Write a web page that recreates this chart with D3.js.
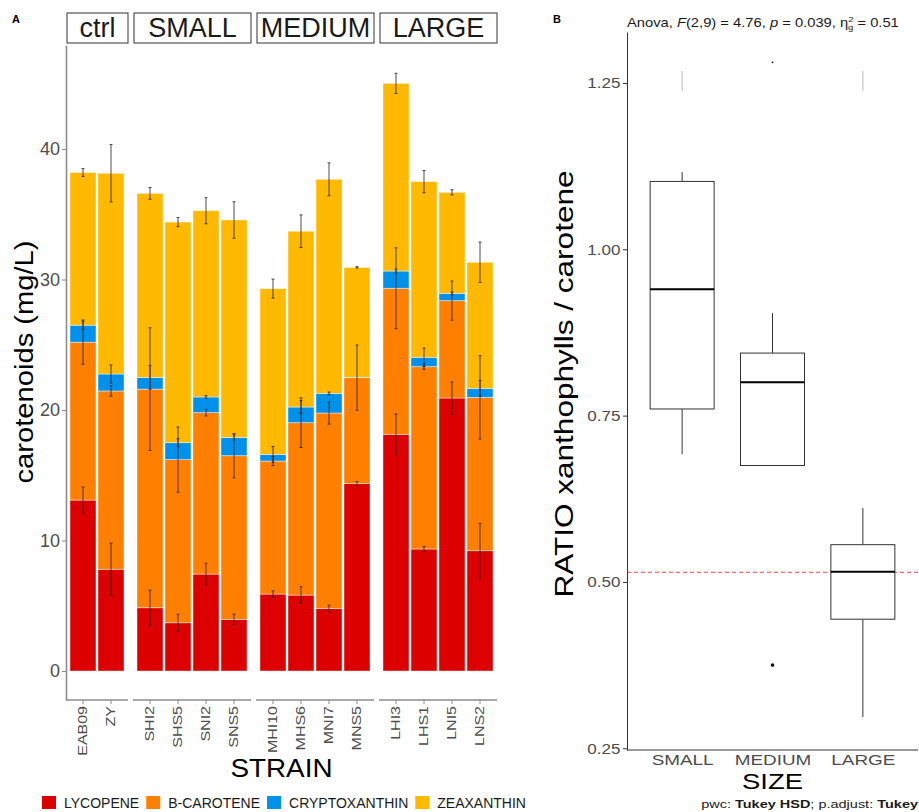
<!DOCTYPE html>
<html>
<head>
<meta charset="utf-8">
<script src="https://cdn.jsdelivr.net/npm/d3@7"></script>
<style>
  body { margin: 0; background: #fff; }
  text { font-family: "Liberation Sans", Arial, sans-serif; }
</style>
</head>
<body>
<svg id="chart" width="919" height="812"></svg>
<script>
// ---- data: panel A (stacked carotenoids per strain, mg/L) ----
const facets = ["ctrl", "SMALL", "MEDIUM", "LARGE"];
const strains = ["EAB09", "ZY", "SHI2", "SHS5", "SNI2", "SNS5", "MHI10", "MHS6", "MNI7", "MNS5", "LHI3", "LHS1", "LNI5", "LNS2"];
const strainFacet = ["ctrl", "ctrl", "SMALL", "SMALL", "SMALL", "SMALL", "MEDIUM", "MEDIUM", "MEDIUM", "MEDIUM", "LARGE", "LARGE", "LARGE", "LARGE"];
const pigments = ["LYCOPENE", "B-CAROTENE", "CRYPTOXANTHIN", "ZEAXANTHIN"];
const pigmentColors = ["#dc0000", "#ff7f00", "#0091ea", "#ffb900"];

const lycopene      = [13.1, 7.8, 4.85, 3.7, 7.43, 3.96, 5.9, 5.82, 4.8, 14.36, 18.14, 9.35, 20.92, 9.22];
const bCarotene     = [12.1, 13.66, 16.75, 12.5, 12.37, 12.54, 10.19, 13.21, 14.97, 8.12, 11.19, 13.97, 7.46, 11.75];
const cryptoxanthin = [1.3, 1.3, 0.9, 1.3, 1.2, 1.4, 0.51, 1.2, 1.51, 0.03, 1.32, 0.72, 0.56, 0.69];
const zeaxanthin    = [11.7, 15.38, 14.1, 16.9, 14.27, 16.66, 12.7, 13.47, 16.4, 8.42, 14.38, 13.46, 7.74, 9.66];

const lycopeneSd      = [1.0, 2.0, 1.35, 0.65, 0.83, 0.4, 0.25, 0.65, 0.25, 0.15, 1.57, 0.2, 1.23, 2.1];
const bCaroteneSd     = [1.7, 0.4, 4.7, 2.5, 0.25, 1.7, 0.35, 1.9, 0.85, 2.5, 3.1, 0.2, 1.5, 3.2];
const cryptoxanthinSd = [0.3, 0.7, 0.9, 0.3, 0.1, 0.2, 0.6, 0.5, 0.1, 0.0, 0.15, 0.7, 0.1, 0.6];
const zeaxanthinSd    = [0.3, 2.2, 0.45, 0.35, 1.0, 1.4, 0.73, 1.25, 1.26, 0.05, 0.77, 0.85, 0.2, 1.55];

const yTicksA = [0, 10, 20, 30, 40];

// ---- data: panel B (ratio xanthophylls / carotene by size) ----
const sizeGroups = ["SMALL", "MEDIUM", "LARGE"];
const whiskerLow  = [0.692, 0.675, 0.297];
const boxQ1       = [0.760, 0.675, 0.444];
const boxMedian   = [0.940, 0.800, 0.5155];
const boxQ3       = [1.102, 0.844, 0.556];
const whiskerHigh = [1.116, 0.904, 0.611];
const outlierGroup = ["MEDIUM", "MEDIUM"];
const outlierValue = [0.375, 1.281];
const stubGroup = ["SMALL", "LARGE"];
const stubFrom  = [1.238, 1.238];
const stubTo    = [1.268, 1.268];
const refLine = 0.5145;
const yTicksB = [0.25, 0.50, 0.75, 1.00, 1.25];

const svg = d3.select("#chart");
const layers = [lycopene, bCarotene, cryptoxanthin, zeaxanthin];
const layerSd = [lycopeneSd, bCaroteneSd, cryptoxanthinSd, zeaxanthinSd];

// ================= PANEL A =================
const aTop = 45, aBottom = 700, aLeft = 66;
const yA = d3.scaleLinear().domain([-2.22, 47.97]).range([aBottom, aTop]);

const table = strains.map(function (s, i) {
  const row = {strain: s, facet: strainFacet[i]};
  pigments.forEach(function (p, k) { row[p] = layers[k][i]; });
  return row;
});
const series = d3.stack().keys(pigments)(table);

// one band scale per facet, same step for every facet
const step = 28, pad = 3, gap = 5;
const facetScales = {};
let x0 = aLeft;
facets.forEach(function (f) {
  const dom = strains.filter(function (s, i) { return strainFacet[i] === f; });
  const w = dom.length * step + 2 * pad;
  facetScales[f] = {
    x: d3.scaleBand().domain(dom).range([x0 + pad, x0 + pad + dom.length * step]).paddingInner(0.07).paddingOuter(0.035),
    left: x0, right: x0 + w
  };
  x0 += w + gap;
});
function xA(i) { return facetScales[strainFacet[i]].x(strains[i]); }
const bw = facetScales.ctrl.x.bandwidth();

// strips
const strip = svg.append("g");
facets.forEach(function (f) {
  const fs = facetScales[f];
  strip.append("rect").attr("x", fs.left + 1).attr("y", 13).attr("width", fs.right - fs.left - 1).attr("height", 30)
    .attr("fill", "#fff").attr("stroke", "#333").attr("stroke-width", 1);
  strip.append("text").attr("x", (fs.left + fs.right) / 2 + 0.5).attr("y", 37).attr("text-anchor", "middle")
    .attr("font-size", 27).attr("fill", "#1a1a1a").text(f);
});

// bars
const gBars = svg.append("g");
series.forEach(function (s, k) {
  gBars.append("g").attr("fill", pigmentColors[k])
    .selectAll("rect").data(s).enter().append("rect")
    .attr("x", function (d, i) { return xA(i); })
    .attr("y", function (d) { return yA(d[1]); })
    .attr("width", bw)
    .attr("height", function (d) { return yA(d[0]) - yA(d[1]); })
    .attr("stroke", "#fff").attr("stroke-opacity", 0.55).attr("stroke-width", 0.8);
});

// error bars at each cumulative layer top
const gErr = svg.append("g").attr("stroke", "#222").attr("stroke-opacity", 0.8).attr("stroke-width", 1);
series.forEach(function (s, k) {
  s.forEach(function (d, i) {
    const sd = layerSd[k][i];
    if (sd <= 0) return;
    const cx = xA(i) + bw / 2;
    const y1 = yA(d[1] + sd), y2 = yA(d[1] - sd);
    gErr.append("line").attr("x1", cx).attr("x2", cx).attr("y1", y1).attr("y2", y2);
    gErr.append("line").attr("x1", cx - 1.5).attr("x2", cx + 1.5).attr("y1", y1).attr("y2", y1);
    gErr.append("line").attr("x1", cx - 1.5).attr("x2", cx + 1.5).attr("y1", y2).attr("y2", y2);
  });
});

// y axis
const yAxisA = svg.append("g").attr("transform", "translate(" + aLeft + ",0)")
  .call(d3.axisLeft(yA).tickValues(yTicksA).tickSize(4).tickSizeOuter(0).tickPadding(2));
yAxisA.select(".domain").attr("stroke", "#8c8c8c").attr("stroke-width", 1.6);
yAxisA.selectAll(".tick line").attr("stroke", "#8c8c8c");
yAxisA.selectAll(".tick text").attr("font-size", 18).attr("fill", "#4d4d4d").attr("font-family", null);

// x axes per facet
facets.forEach(function (f) {
  const fs = facetScales[f];
  const g = svg.append("g").attr("transform", "translate(0," + aBottom + ")");
  g.append("line").attr("x1", fs.left).attr("x2", fs.right).attr("y1", 0).attr("y2", 0)
    .attr("stroke", "#8c8c8c").attr("stroke-width", 1.6);
  fs.x.domain().forEach(function (s) {
    const cx = fs.x(s) + fs.x.bandwidth() / 2;
    g.append("line").attr("x1", cx).attr("x2", cx).attr("y1", 0).attr("y2", 4).attr("stroke", "#8c8c8c");
    g.append("text").attr("transform", "translate(" + cx + ",6) rotate(-90) scale(1.28,1)")
      .attr("text-anchor", "end").attr("dy", "0.35em").attr("font-size", 12.5).attr("fill", "#4d4d4d").text(s);
  });
});

svg.append("text").attr("transform", "translate(33,362) rotate(-90)").attr("text-anchor", "middle")
  .attr("font-size", 26).attr("textLength", 243).attr("lengthAdjust", "spacingAndGlyphs").text("carotenoids (mg/L)");
svg.append("text").attr("x", (aLeft + facetScales.LARGE.right) / 2).attr("y", 777).attr("text-anchor", "middle")
  .attr("font-size", 25).attr("textLength", 102).attr("lengthAdjust", "spacingAndGlyphs").text("STRAIN");
svg.append("text").attr("x", 12).attr("y", 23).attr("font-size", 11).attr("font-weight", "bold").text("A");

// legend
const legend = svg.append("g");
let lx = 42;
pigments.forEach(function (p, k) {
  legend.append("rect").attr("x", lx).attr("y", 796).attr("width", 14).attr("height", 13).attr("fill", pigmentColors[k]);
  const t = legend.append("text").attr("x", lx + 22).attr("y", 808).attr("font-size", 14).attr("fill", "#1a1a1a").text(p);
  lx += 22 + t.node().getComputedTextLength() + 7;
});

// ================= PANEL B =================
const bTop = 32, bBottom = 750, bLeft = 627, bRight = 918;
const yB = d3.scaleLinear().domain([0.2474, 1.3266]).range([bBottom, bTop]);
const xB = d3.scalePoint().domain(sizeGroups).range([bLeft, bRight]).padding(0.61);
const boxW = 64;

svg.append("line").attr("x1", bLeft).attr("x2", bRight).attr("y1", yB(refLine)).attr("y2", yB(refLine))
  .attr("stroke", "#ff0000").attr("stroke-opacity", 0.75).attr("stroke-dasharray", "4,3").attr("stroke-width", 1);

const gBox = svg.append("g").attr("stroke", "#333").attr("stroke-width", 1).attr("fill", "none");
sizeGroups.forEach(function (g, i) {
  const cx = xB(g);
  gBox.append("line").attr("x1", cx).attr("x2", cx).attr("y1", yB(whiskerHigh[i])).attr("y2", yB(boxQ3[i]));
  gBox.append("line").attr("x1", cx).attr("x2", cx).attr("y1", yB(boxQ1[i])).attr("y2", yB(whiskerLow[i]));
  gBox.append("rect").attr("x", cx - boxW / 2).attr("y", yB(boxQ3[i])).attr("width", boxW)
    .attr("height", yB(boxQ1[i]) - yB(boxQ3[i])).attr("fill", "#fff");
  gBox.append("line").attr("x1", cx - boxW / 2).attr("x2", cx + boxW / 2)
    .attr("y1", yB(boxMedian[i])).attr("y2", yB(boxMedian[i])).attr("stroke", "#000").attr("stroke-width", 2);
});
outlierValue.forEach(function (v, i) {
  svg.append("circle").attr("cx", xB(outlierGroup[i])).attr("cy", yB(v)).attr("r", v > 1 ? 0.9 : 1.8).attr("fill", "#111");
});
stubGroup.forEach(function (g, i) {
  svg.append("line").attr("x1", xB(g)).attr("x2", xB(g)).attr("y1", yB(stubTo[i])).attr("y2", yB(stubFrom[i]))
    .attr("stroke", "#bbb").attr("stroke-width", 1);
});

const yAxisB = svg.append("g").attr("transform", "translate(" + bLeft + ",0)")
  .call(d3.axisLeft(yB).tickValues(yTicksB).tickFormat(d3.format(".2f")).tickSize(4).tickSizeOuter(0).tickPadding(2));
yAxisB.select(".domain").attr("stroke", "#333");
yAxisB.selectAll(".tick line").attr("stroke", "#333");
yAxisB.selectAll(".tick text").attr("font-size", 15.5).attr("fill", "#4d4d4d").attr("font-family", null)
  .attr("transform", "scale(1.1,1)");

const xAxisB = svg.append("g").attr("transform", "translate(0," + bBottom + ")")
  .call(d3.axisBottom(xB).tickSize(0).tickSizeOuter(0).tickPadding(4));
xAxisB.select(".domain").attr("stroke", "#333").attr("d", "M" + bLeft + ",0H" + bRight);
xAxisB.selectAll(".tick text").attr("font-size", 15.5).attr("fill", "#4d4d4d").attr("font-family", null)
  .attr("transform", "scale(1.22,1)");

svg.append("text").attr("transform", "translate(573,384) rotate(-90)").attr("text-anchor", "middle")
  .attr("font-size", 26).attr("textLength", 427).attr("lengthAdjust", "spacingAndGlyphs").text("RATIO xanthophylls / carotene");
svg.append("text").attr("x", xB("MEDIUM")).attr("y", 789).attr("text-anchor", "middle")
  .attr("font-size", 22).attr("textLength", 61).attr("lengthAdjust", "spacingAndGlyphs").text("SIZE");
svg.append("text").attr("x", 553).attr("y", 23).attr("font-size", 11).attr("font-weight", "bold").text("B");

const title = svg.append("text").attr("transform", "translate(" + bLeft + ",27) scale(1.18,1)")
  .attr("font-size", 12.5).attr("fill", "#1a1a1a");
title.append("tspan").text("Anova, ");
title.append("tspan").attr("font-style", "italic").text("F");
title.append("tspan").text("(2,9) = 4.76, ");
title.append("tspan").attr("font-style", "italic").text("p");
title.append("tspan").text(" = 0.039, \u03b7");
title.append("tspan").attr("font-size", 8).attr("dy", -5).text("2");
title.append("tspan").attr("font-size", 8).attr("dx", -4.5).attr("dy", 8).text("g");
title.append("tspan").attr("dy", -3).text(" = 0.51");

const cap = svg.append("text").attr("transform", "translate(" + bRight + ",808) scale(1.26,1)")
  .attr("text-anchor", "end").attr("font-size", 11.5).attr("fill", "#1a1a1a");
cap.append("tspan").text("pwc: ");
cap.append("tspan").attr("font-weight", "bold").text("Tukey HSD");
cap.append("tspan").text("; p.adjust: ");
cap.append("tspan").attr("font-weight", "bold").text("Tukey");
</script>
</body>
</html>
